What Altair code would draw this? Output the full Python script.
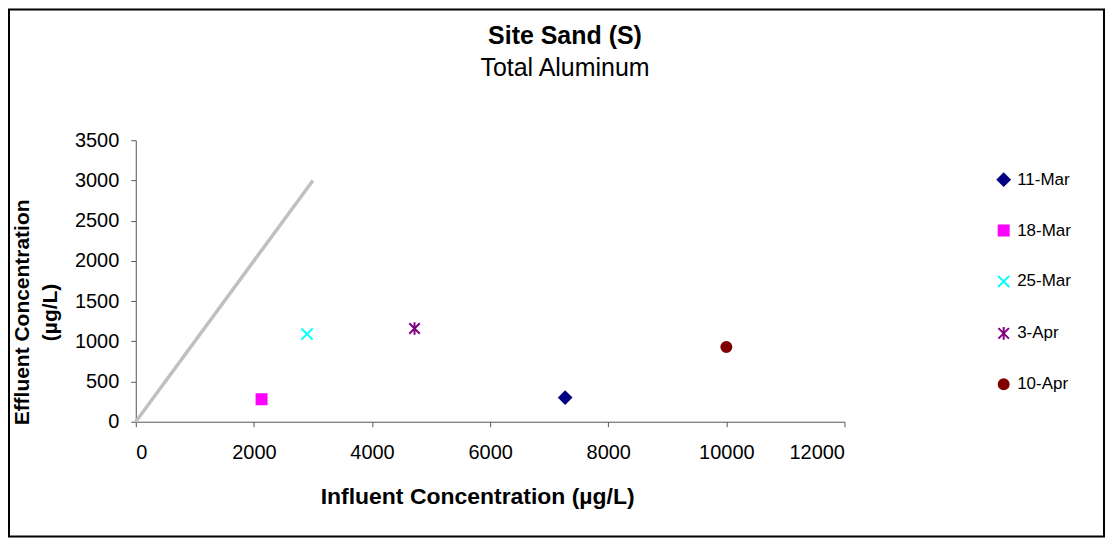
import altair as alt
import pandas as pd

# ---- data ----
dates = ["11-Mar", "18-Mar", "25-Mar", "3-Apr", "10-Apr"]
influent = [7270, 2130, 2900, 4720, 10000]
effluent = [300, 280, 1090, 1160, 930]
colors = ["#000080", "#FF00FF", "#00FFFF", "#800080", "#800000"]
shapes = [
    "M-0.857,0L0,-0.857L0.857,0L0,0.857Z",                       # diamond
    "M-0.714,-0.714L0.714,-0.714L0.714,0.714L-0.714,0.714Z",     # square
    "M-0.8,-0.8L0.8,0.8M0.8,-0.8L-0.8,0.8",                      # x
    "M-0.75,-0.75L0.75,0.75M0.75,-0.75L-0.75,0.75M0,-0.9L0,0.9", # star
    "M-0.714,0A0.714,0.714,0,1,0,0.714,0A0.714,0.714,0,1,0,-0.714,0Z",  # circle
]
line_x = [0, 3000]
line_y = [0, 3000]
x_ticks = [0, 2000, 4000, 6000, 8000, 10000, 12000]
y_ticks = [0, 500, 1000, 1500, 2000, 2500, 3000, 3500]

FONT = "Liberation Sans"
W, H = 710, 282
PAD_L, PAD_T, PAD_R, PAD_B = 128, 132, 261, 116

pts = pd.DataFrame({"date": dates, "influent": influent, "effluent": effluent})
ref = pd.DataFrame({"x": line_x, "y": line_y})

xscale = alt.Scale(domain=[0, 12000], nice=False, zero=True)
yscale = alt.Scale(domain=[0, 3500], nice=False, zero=True)

xaxis = alt.Axis(
    values=x_ticks, format="d", grid=False, tickSize=5, labelFontSize=20, labelPadding=16,
    domainColor="#555555", tickColor="#555555", labelColor="#000000",
    title="Influent Concentration (µg/L)", titleFontSize=23, titleFontWeight="bold",
    titleColor="#000000", titleX=342, titleY=82, titleBaseline="alphabetic",
    titleAnchor="middle", titleAlign="center",
)
yaxis = alt.Axis(
    values=y_ticks, format="d", grid=False, tickSize=5, labelFontSize=20, labelPadding=12,
    domainColor="#555555", tickColor="#555555", labelColor="#000000",
    title=["Effluent Concentration", "(µg/L)"], titleFontSize=21, titleFontWeight="bold",
    titleColor="#000000", titleX=-113, titleY=172, titleBaseline="middle",
    titleAlign="center", titleAngle=-90, titleLineHeight=28,
)

frame = alt.Chart(pd.DataFrame({"k": [0]})).mark_rect(
    fill=None, stroke="#000000", strokeWidth=2, clip=False
).encode(
    x=alt.value(-PAD_L + 1), x2=alt.value(W + PAD_R - 1),
    y=alt.value(-PAD_T + 1), y2=alt.value(H + PAD_B - 1),
)

line = alt.Chart(ref).mark_line(color="#C0C0C0", strokeWidth=3.5).encode(
    x=alt.X("x:Q", scale=xscale, axis=xaxis),
    y=alt.Y("y:Q", scale=yscale, axis=yaxis),
)

points = alt.Chart(pts).mark_point(filled=True, strokeWidth=2, opacity=1, size=196).encode(
    x=alt.X("influent:Q", scale=xscale, axis=xaxis),
    y=alt.Y("effluent:Q", scale=yscale, axis=yaxis),
    color=alt.Color("date:N", scale=alt.Scale(domain=dates, range=colors), legend=alt.Legend(title=None)),
    stroke=alt.Stroke("date:N", scale=alt.Scale(domain=dates, range=colors), legend=alt.Legend(title=None)),
    shape=alt.Shape("date:N", scale=alt.Scale(domain=dates, range=shapes), legend=alt.Legend(title=None)),
)

chart = alt.layer(frame, line, points).properties(
    width=W, height=H,
    autosize=alt.AutoSizeParams(type="none"),
    padding={"left": PAD_L, "top": PAD_T, "right": PAD_R, "bottom": PAD_B},
    title=alt.TitleParams(
        text="Site Sand (S)", subtitle="Total Aluminum",
        fontSize=25, fontWeight="bold", subtitleFontSize=25, subtitleFontWeight="normal",
        color="#000000", subtitleColor="#000000", font=FONT, subtitleFont=FONT,
        anchor="middle", frame="group", dx=75, dy=73, subtitlePadding=7, offset=0,
    ),
).configure(
    font=FONT, background="#FFFFFF",
).configure_view(
    stroke=None,
).configure_axis(
    labelFont=FONT, titleFont=FONT,
).configure_legend(
    orient="none", legendX=861, legendY=31, padding=0,
    labelFont=FONT, labelFontSize=17, labelColor="#000000", labelOffset=5,
    rowPadding=31, symbolSize=196, symbolStrokeWidth=2, symbolOpacity=1,
)

chart.save("out.html", embed_options={"renderer": "svg", "actions": False})
